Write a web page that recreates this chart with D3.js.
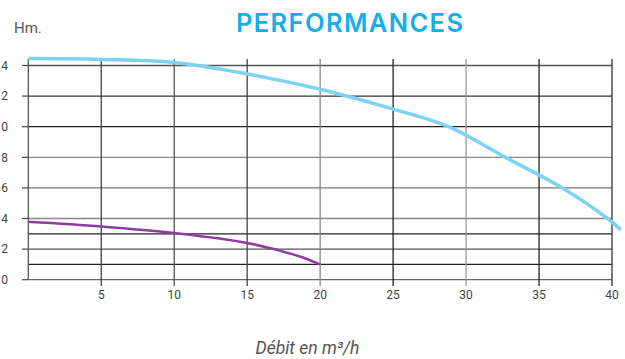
<!DOCTYPE html>
<html><head><meta charset="utf-8">
<script src="https://cdn.jsdelivr.net/npm/d3@7/dist/d3.min.js"></script>
<style>body{margin:0;background:#fff}svg{display:block}</style>
</head><body>
<svg id="c" width="625" height="359"></svg>
<script>
const xTicks = [5, 10, 15, 20, 25, 30, 35, 40];
const xTickColors = ["#444", "#555", "#444", "#888", "#222", "#999", "#222", "#333"];
const yTicks = [0, 2, 4, 6, 8, 10, 12, 14];
const yGrid = [0, 1, 2, 3, 4, 6, 8, 10, 12, 14];
const yGridColors = ["#666", "#222", "#555", "#222", "#888", "#777", "#888", "#222", "#333", "#555"];
const blueQ = [0, 5, 10, 15, 20, 25, 28.8, 32.6, 36.6, 39.7, 40.6];
const blueH = [14.45, 14.4, 14.2, 13.45, 12.45, 11.15, 10.0, 8.05, 6.0, 4.0, 3.27];
const purpleQ = [0, 5, 10, 15, 18.5, 20];
const purpleH = [3.79, 3.48, 3.05, 2.4, 1.55, 1.0];

const svg = d3.select("#c");
const x = d3.scaleLinear().domain([0, 40]).range([28.3, 612]);
const y = d3.scaleLinear().domain([0, 14]).range([279.7, 65.5]);
const gridTop = 59;

// horizontal gridlines
svg.append("g").selectAll("line").data(yGrid).join("line")
  .attr("x1", x(0)).attr("x2", x(40))
  .attr("y1", d => y(d)).attr("y2", d => y(d))
  .attr("stroke", (d, i) => yGridColors[i]).attr("stroke-width", 1.3);
// y ticks
svg.append("g").selectAll("line").data(yTicks).join("line")
  .attr("x1", 22).attr("x2", x(0))
  .attr("y1", d => y(d)).attr("y2", d => y(d))
  .attr("stroke", "#444").attr("stroke-width", 1.2);
// vertical gridlines
svg.append("g").selectAll("line").data(xTicks).join("line")
  .attr("x1", d => x(d)).attr("x2", d => x(d))
  .attr("y1", gridTop).attr("y2", 286)
  .attr("stroke", (d, i) => xTickColors[i]).attr("stroke-width", 1.3);
// left axis line
svg.append("line").attr("x1", x(0)).attr("x2", x(0)).attr("y1", gridTop).attr("y2", y(0))
  .attr("stroke", "#555").attr("stroke-width", 1.3);

// y labels (leading digit clipped by the left edge, as in the reference)
svg.append("g").selectAll("text").data(yTicks).join("text")
  .attr("x", 8).attr("y", d => y(d)).attr("dy", "0.35em")
  .attr("text-anchor", "end").attr("font-family", "Roboto").attr("font-size", 12)
  .attr("fill", "#444").text(d => d);
// x labels
svg.append("g").selectAll("text").data(xTicks).join("text")
  .attr("x", d => x(d)).attr("y", 295).attr("dy", "0.35em")
  .attr("text-anchor", "middle").attr("font-family", "Roboto").attr("font-size", 12)
  .attr("fill", "#444").text(d => d);

const line = d3.line().x(d => x(d[0])).y(d => y(d[1])).curve(d3.curveCatmullRom.alpha(0.5));
svg.append("path").datum(purpleQ.map((q, i) => [q, purpleH[i]]))
  .attr("d", line).attr("fill", "none").attr("stroke", "#8e3d9c").attr("stroke-width", 2.5);
svg.append("path").datum(blueQ.map((q, i) => [q, blueH[i]]))
  .attr("d", line).attr("fill", "none").attr("stroke", "#7ed2f4").attr("stroke-width", 3.5);

// titles
svg.append("text").attr("x", 349.5).attr("y", 31.5).attr("text-anchor", "middle")
  .attr("font-family", "Inter").attr("font-weight", 600).attr("font-size", 25.5)
  .attr("fill", "#14aeea").attr("textLength", 227).attr("lengthAdjust", "spacing")
  .text("PERFORMANCES");
svg.append("text").attr("x", 14).attr("y", 33.3)
  .attr("font-family", "Roboto").attr("font-size", 15).attr("fill", "#555").text("Hm.");
svg.append("text").attr("x", 307.5).attr("y", 354.3).attr("text-anchor", "middle")
  .attr("font-family", "Roboto").attr("font-style", "italic")
  .attr("font-size", 17.5).attr("fill", "#555").text("Débit en m³/h");
</script>
</body></html>
